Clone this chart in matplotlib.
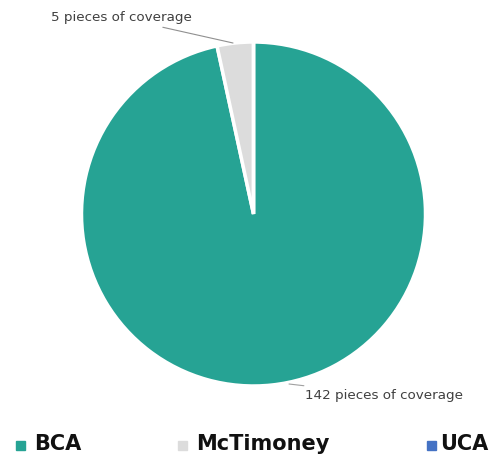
import matplotlib
matplotlib.use("Agg")
import matplotlib.pyplot as plt
import numpy as np

categories = ["BCA", "McTimoney", "UCA"]
values = [142, 5, 0]
colors = ["#26A394", "#DCDCDC", "#4472C4"]
labels = ["142 pieces of coverage", "5 pieces of coverage", ""]

W, H = 503, 458
fig = plt.figure(figsize=(W / 100, H / 100), dpi=100)
ax = fig.add_axes([0, 0, 1, 1])
ax.set_xlim(0, W)
ax.set_ylim(0, H)
ax.set_aspect("equal")
ax.axis("off")

cx, cy, r = 253.5, H - 214, 172
wedges, _ = ax.pie(values, colors=colors, startangle=90, counterclock=False,
                   center=(cx, cy), radius=r,
                   wedgeprops=dict(edgecolor="white", linewidth=2.5))
ax.set_xlim(0, W)
ax.set_ylim(0, H)

txtcol = "#404040"
# McTimoney label
ax.annotate(labels[1], xy=(233, H - 43), xytext=(51, H - 18),
            fontsize=9.7, color=txtcol, va="center", ha="left",
            arrowprops=dict(arrowstyle="-", color="#909090", lw=0.8,
                            shrinkA=0, shrinkB=0,
                            connectionstyle="arc3"),
            annotation_clip=False)
# BCA label
ax.annotate(labels[0], xy=(289, H - 384), xytext=(305, H - 395),
            fontsize=9.7, color=txtcol, va="center", ha="left",
            arrowprops=dict(arrowstyle="-", color="#A0A0A0", lw=0.8,
                            shrinkA=0, shrinkB=0),
            annotation_clip=False)

# Legend
mark_x = [16, 178, 427]
text_x = [34, 196, 440]
for mx, tx, name, c in zip(mark_x, text_x, categories, colors):
    ax.add_patch(plt.Rectangle((mx, H - 450), 9, 9, color=c, clip_on=False))
    ax.text(tx, H - 444, name, fontsize=15, fontweight="bold",
            color="#111111", va="center", ha="left")

fig.savefig("out.png", dpi=100)
